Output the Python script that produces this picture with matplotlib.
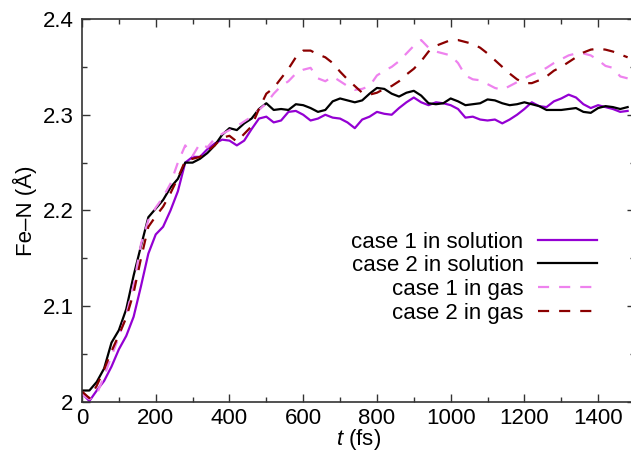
import numpy as np
import matplotlib
matplotlib.use('Agg')
import matplotlib.pyplot as plt

plt.rcParams['font.family'] = ['Liberation Sans', 'DejaVu Sans']
plt.rcParams['mathtext.fontset'] = 'custom'
plt.rcParams['mathtext.it'] = 'Liberation Sans:italic'
plt.rcParams['mathtext.rm'] = 'Liberation Sans'

# time axis (fs), one sample every 20 fs
t_fs = np.arange(0, 1500, 20)

# case 1 in solution
sol1 = [2.009, 2.001, 2.012, 2.022, 2.037, 2.055, 2.069, 2.089, 2.121, 2.155,
        2.175, 2.183, 2.200, 2.220, 2.250, 2.256, 2.256, 2.264, 2.270, 2.274,
        2.273, 2.268, 2.273, 2.285, 2.296, 2.298, 2.292, 2.294, 2.303, 2.304,
        2.300, 2.294, 2.296, 2.300, 2.297, 2.296, 2.292, 2.286, 2.295, 2.298,
        2.303, 2.301, 2.300, 2.307, 2.313, 2.318, 2.313, 2.310, 2.313, 2.312,
        2.310, 2.306, 2.297, 2.298, 2.295, 2.294, 2.295, 2.291, 2.295, 2.300,
        2.306, 2.313, 2.309, 2.308, 2.314, 2.317, 2.321, 2.318, 2.311, 2.307,
        2.310, 2.308, 2.306, 2.303, 2.304]

# case 2 in solution
sol2 = [2.012, 2.012, 2.021, 2.035, 2.062, 2.075, 2.097, 2.132, 2.163, 2.193,
        2.202, 2.211, 2.224, 2.233, 2.250, 2.250, 2.254, 2.260, 2.268, 2.279,
        2.286, 2.284, 2.291, 2.296, 2.306, 2.312, 2.305, 2.306, 2.305, 2.311,
        2.310, 2.307, 2.303, 2.305, 2.314, 2.317, 2.315, 2.313, 2.315, 2.322,
        2.328, 2.327, 2.322, 2.319, 2.323, 2.325, 2.320, 2.312, 2.311, 2.312,
        2.317, 2.314, 2.310, 2.311, 2.312, 2.316, 2.315, 2.312, 2.310, 2.311,
        2.313, 2.311, 2.309, 2.305, 2.305, 2.305, 2.306, 2.307, 2.303, 2.302,
        2.307, 2.309, 2.308, 2.306, 2.308]

# case 1 in gas
gas1 = [2.008, 2.003, 2.008, 2.027, 2.048, 2.068, 2.091, 2.122, 2.165, 2.190,
        2.203, 2.214, 2.228, 2.250, 2.268, 2.257, 2.270, 2.266, 2.275, 2.280,
        2.284, 2.288, 2.293, 2.298, 2.305, 2.312, 2.322, 2.330, 2.335, 2.343,
        2.347, 2.349, 2.338, 2.335, 2.340, 2.335, 2.330, 2.326, 2.327, 2.330,
        2.341, 2.346, 2.350, 2.356, 2.364, 2.372, 2.378, 2.370, 2.366, 2.364,
        2.362, 2.354, 2.341, 2.337, 2.336, 2.332, 2.328, 2.326, 2.330, 2.334,
        2.338, 2.342, 2.345, 2.349, 2.354, 2.358, 2.362, 2.364, 2.364, 2.362,
        2.357, 2.351, 2.349, 2.340, 2.338]

# case 2 in gas
gas2 = [2.011, 2.004, 2.017, 2.034, 2.053, 2.070, 2.088, 2.114, 2.150, 2.183,
        2.194, 2.204, 2.218, 2.234, 2.252, 2.254, 2.256, 2.262, 2.268, 2.276,
        2.278, 2.272, 2.280, 2.288, 2.306, 2.322, 2.328, 2.338, 2.348, 2.360,
        2.367, 2.367, 2.363, 2.360, 2.354, 2.345, 2.337, 2.330, 2.323, 2.321,
        2.323, 2.327, 2.330, 2.335, 2.342, 2.348, 2.356, 2.366, 2.372, 2.375,
        2.378, 2.378, 2.376, 2.374, 2.370, 2.364, 2.357, 2.350, 2.343, 2.337,
        2.333, 2.333, 2.336, 2.340, 2.346, 2.350, 2.355, 2.360, 2.365, 2.368,
        2.369, 2.368, 2.366, 2.363, 2.360]

fig = plt.figure(figsize=(6.31, 4.51), dpi=100)
ax = fig.add_axes([82/631, 1 - 402/451, (635 - 82)/631, (402 - 19)/451])

lw = 1.6
ax.plot(t_fs, sol1, color='#9400d3', lw=lw, label='case 1 in solution')
ax.plot(t_fs, sol2, color='black', lw=lw, label='case 2 in solution')
ax.plot(t_fs, gas1, color='#ee82ee', lw=lw, dashes=(5, 4.5), label='case 1 in gas')
ax.plot(t_fs, gas2, color='#8b0000', lw=lw, dashes=(5, 4.5), label='case 2 in gas')

ax.set_xlim(0, 1500)
ax.set_ylim(2.0, 2.4)
ax.set_xticks(np.arange(0, 1500, 200))
ax.set_xticks(np.arange(0, 1501, 100), minor=True)
ax.set_yticks([2.0, 2.1, 2.2, 2.3, 2.4])
ax.set_yticks(np.arange(2.0, 2.401, 0.05), minor=True)
ax.yaxis.set_major_formatter(plt.FormatStrFormatter('%g'))
ax.tick_params(which='both', direction='in', top=True, right=True,
               labelsize=16, color='#333333')
ax.tick_params(which='major', length=6, width=1, pad=6)
ax.tick_params(which='minor', length=3.5, width=1)
ax.tick_params(axis='x', which='major', pad=4)
for s in ax.spines.values():
    s.set_linewidth(1.2)
    s.set_color('#333333')

ax.set_xlabel(r'$t$ (fs)', fontsize=16, labelpad=-1)
ax.set_ylabel('Fe–N (Å)', fontsize=16, labelpad=4)

leg = ax.legend(loc='upper right', bbox_to_anchor=(0.931, 0.445),
                frameon=False, markerfirst=False, fontsize=16,
                handlelength=2.65, handletextpad=0.65, labelspacing=0.12,
                borderpad=0, borderaxespad=0)

fig.savefig('out.png', dpi=100)
